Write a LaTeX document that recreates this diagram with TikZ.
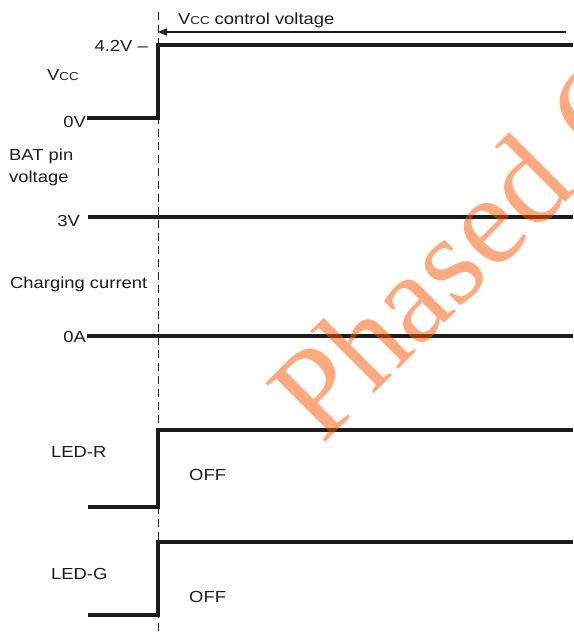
\documentclass[tikz,border=0pt]{standalone}
\usepackage{fontspec}
\usetikzlibrary{arrows.meta}
\newfontfamily\lblfont{Liberation Sans}[FakeStretch=1.15]
\newfontfamily\wmfont{Liberation Serif}
\definecolor{ink}{RGB}{30,27,28}
\definecolor{wmorange}{RGB}{255,85,0}
\tikzset{
  lbl/.style={inner sep=0pt, font=\lblfont\fontsize{16}{19}\selectfont, text=ink},
  wave/.style={draw=ink, line width=3.2pt, line join=miter},
  guide/.style={draw=ink, line width=1pt, dash pattern=on 8pt off 5pt},
  ctlarrow/.style={draw=ink, line width=1.4pt, -{Triangle[length=9pt,width=7pt]}},
}
\newcommand{\smc}[1]{{\fontsize{11.5}{13}\selectfont #1}}
\begin{document}
\begin{tikzpicture}[x=1pt,y=-1pt]
\useasboundingbox (0,0) rectangle (573,636);
\fill[white] (0,0) rectangle (573,636);

% dashed time marker
\coordinate (gtop) at (158,12);
\coordinate (gbot) at (158,636);
\draw[guide] (gtop) -- (gbot);

% control voltage arrow
\coordinate (arrS) at (566,32);
\coordinate (arrE) at (158,32);
\draw[ctlarrow] (arrS) -- (arrE);
\node[lbl, anchor=base west] (ctl) at (178,25) {V\smc{CC} control voltage};

% Vcc waveform
\node[lbl, anchor=base east] (v42) at (148,52) {4.2V –};
\node[lbl, anchor=base west] (vcc) at (47,81) {V\smc{CC}};
\node[lbl, anchor=base east] (v0) at (86,128) {0V};
\coordinate (vA) at (87,118);
\coordinate (vB) at (158,118);
\coordinate (vC) at (158,45);
\coordinate (vD) at (573,45);
\draw[wave] (vA) -- (vB) -- (vC) -- (vD);

% BAT pin voltage
\node[lbl, anchor=base west] (bat1) at (9,161) {BAT pin};
\node[lbl, anchor=base west] (bat2) at (9,183) {voltage};
\node[lbl, anchor=base east] (v3) at (80,226) {3V};
\coordinate (bA) at (88,217);
\coordinate (bB) at (573,217);
\draw[wave] (bA) -- (bB);

% Charging current
\node[lbl, anchor=base west] (chg) at (10,288) {Charging current};
\node[lbl, anchor=base east] (a0) at (86,342) {0A};
\coordinate (cA) at (87,336);
\coordinate (cB) at (573,336);
\draw[wave] (cA) -- (cB);

% LED-R
\node[lbl, anchor=base west] (ledr) at (51,457) {LED-R};
\node[lbl, anchor=base west] (offr) at (189,480) {OFF};
\coordinate (rA) at (88,507);
\coordinate (rB) at (158,507);
\coordinate (rC) at (158,430);
\coordinate (rD) at (573,430);
\draw[wave] (rA) -- (rB) -- (rC) -- (rD);

% LED-G
\node[lbl, anchor=base west] (ledg) at (51,579) {LED-G};
\node[lbl, anchor=base west] (offg) at (189,602) {OFF};
\coordinate (gA) at (88,615);
\coordinate (gB) at (158,615);
\coordinate (gC) at (158,542);
\coordinate (gD) at (573,542);
\draw[wave] (gA) -- (gB) -- (gC) -- (gD);

% watermark
\begin{scope}
\clip (0,0) rectangle (573,636);
\node[inner sep=0pt, anchor=base west, rotate=45, text=wmorange, text opacity=0.5,
      font=\wmfont\fontsize{128}{130}\selectfont] (wm) at (322,446) {Phased Out};
\end{scope}
\end{tikzpicture}
\end{document}
